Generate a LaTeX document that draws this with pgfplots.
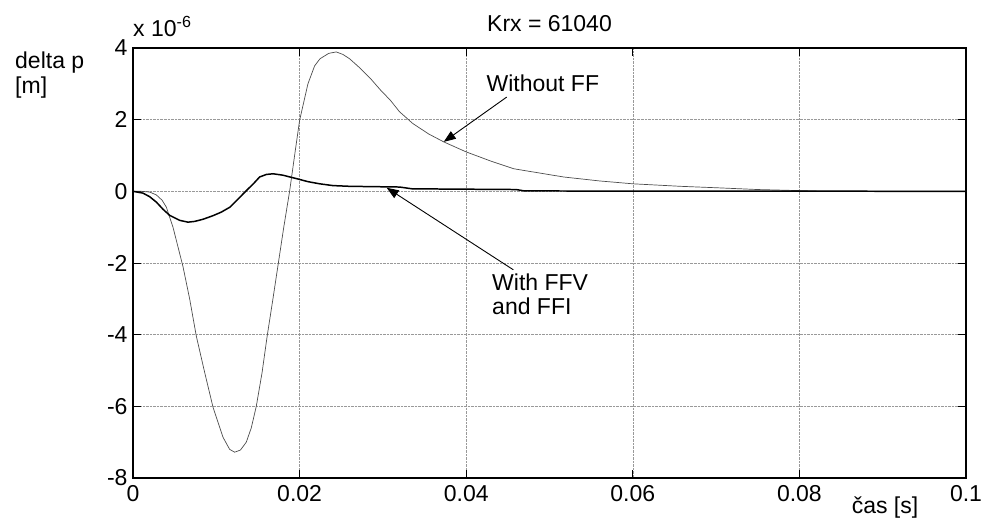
\documentclass[border=0pt]{standalone}
\usepackage{pgfplots}
\pgfplotsset{compat=1.18}
\usepackage{fontspec}
\setmainfont{Liberation Sans}
\usetikzlibrary{arrows.meta}
\newcommand{\fs}{\fontsize{23bp}{27bp}\selectfont}
\begin{document}
\begin{tikzpicture}
\path[use as bounding box] (0,0) rectangle (981bp,527bp);
\begin{axis}[
  at={(133bp,49bp)}, anchor=south west,
  scale only axis, width=833bp, height=430bp,
  xmin=0, xmax=0.1, ymin=-8, ymax=4,
  xtick={0,0.02,0.04,0.06,0.08,0.1},
  xticklabels={0,0.02,0.04,0.06,0.08,0.1},
  ytick={-8,-6,-4,-2,0,2,4},
  yticklabels={-8,-6,-4,-2,0,2,4},
  scaled x ticks=false, scaled y ticks=false,
  tick align=inside, major tick length=8bp,
  tick style={black, line width=0.8pt},
  axis line style={black, line width=1.2pt},
  grid=major,
  major grid style={densely dotted, gray!80, line width=0.6pt},
  tick label style={font=\fs},
  xticklabel style={yshift=-4bp},
  yticklabel style={xshift=-2bp},
  clip mode=individual,
]
\addplot[gray!60!black, line width=0.7pt] coordinates {
(0,0) (0.001,0) (0.002,-0.02) (0.0028,-0.1) (0.0035,-0.25) (0.004,-0.44)
(0.0048,-1.0) (0.006,-2.1) (0.0068,-3.0) (0.0076,-4.04) (0.0086,-5.05)
(0.0096,-6.02) (0.0108,-6.86) (0.0116,-7.2) (0.0122,-7.28) (0.0129,-7.22)
(0.0136,-7.0) (0.0142,-6.6) (0.0148,-6.0) (0.0155,-5.05) (0.0161,-4.05)
(0.0168,-3.0) (0.01745,-2.0) (0.0181,-1.0) (0.0188,0) (0.0194,1.0)
(0.02,1.98) (0.021,3.0) (0.0218,3.5) (0.02245,3.7) (0.0235,3.85)
(0.0244,3.89) (0.0252,3.82) (0.026,3.7) (0.0272,3.45) (0.0285,3.15)
(0.0297,2.83) (0.0309,2.54) (0.032,2.22) (0.0336,1.89) (0.0355,1.6)
(0.0373,1.38) (0.04,1.10) (0.043,0.84) (0.0457,0.63) (0.0517,0.40)
(0.056,0.29) (0.060,0.21) (0.0657,0.14) (0.07,0.10) (0.075,0.05)
(0.08,0.02) (0.083,0) (0.1,0)
};
\addplot[black, line width=1.5pt] coordinates {
(0,0) (0.0012,-0.05) (0.002,-0.15) (0.0028,-0.3) (0.0036,-0.5) (0.0044,-0.67)
(0.0056,-0.81) (0.0066,-0.86) (0.0074,-0.84) (0.0084,-0.78) (0.0096,-0.68)
(0.0106,-0.58) (0.01165,-0.44) (0.01285,-0.16) (0.01365,0.03)
(0.01445,0.21) (0.0152,0.40) (0.016,0.47) (0.0168,0.49) (0.018,0.45)
(0.0197,0.35) (0.021,0.27) (0.0224,0.21) (0.024,0.16) (0.026,0.14)
(0.032,0.12) (0.0335,0.07) (0.046,0.05) (0.047,0.01) (0.1,0)
};
\draw[black, line width=0.9pt, -{Triangle[length=12bp,width=9bp]}] (axis cs:0.04486,2.63) -- (axis cs:0.0373,1.38);
\draw[black, line width=0.9pt, -{Triangle[length=12bp,width=9bp]}] (axis cs:0.04566,-2.19) -- (axis cs:0.03045,0.10);
\node[font=\fs] at (axis cs:0.0492,3.02) {Without FF};
\node[font=\fs, anchor=north west, align=left, inner sep=0pt] at (axis cs:0.0431,-2.3) {With FFV\\[-3bp]and FFI};
\node[font=\fs, anchor=center] at (rel axis cs:0.5,1) [yshift=24bp] {Krx = 61040};
\node[font=\fs, anchor=base west, inner sep=0pt] at (rel axis cs:0,1) [yshift=11bp] {x 10\textsuperscript{-6}};
\end{axis}
\node[font=\fs, anchor=west, inner sep=0pt] at (15bp,464bp) {delta p};
\node[font=\fs, anchor=west, inner sep=0pt] at (15bp,439bp) {[m]};
\node[font=\fs, anchor=center] at (885bp,19bp) {čas [s]};
\end{tikzpicture}
\end{document}
